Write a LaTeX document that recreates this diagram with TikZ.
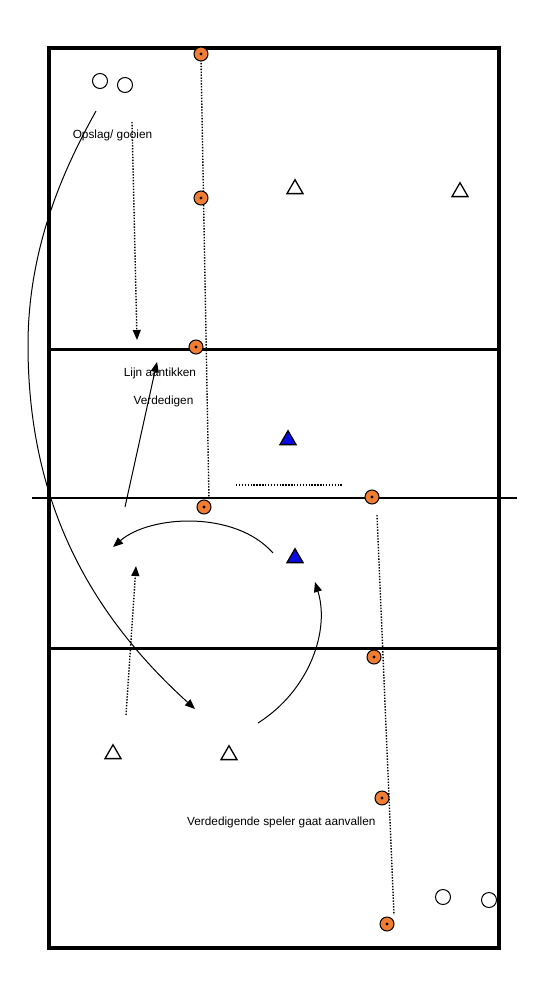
\documentclass[tikz,border=0pt]{standalone}
\usepackage{fontspec}
\setmainfont{Liberation Sans}
\usetikzlibrary{arrows.meta,shapes.geometric}
\definecolor{cone}{RGB}{240,125,50}
\definecolor{bluep}{RGB}{10,10,230}
\tikzset{
  court/.style={line width=4pt},
  cline/.style={line width=3pt},
  netline/.style={line width=2pt},
  dotline/.style={line width=1.4pt,dash pattern=on 1.4pt off 1.5pt},
  mv/.style={line width=1pt,-{Triangle[length=10pt,width=8pt]}},
  marker/.style={circle,draw=black,fill=cone,line width=1pt,minimum size=14pt,inner sep=0pt,
     path picture={\fill[black] (path picture bounding box.center) circle (1.6pt);}},
  tri/.style={regular polygon,regular polygon sides=3,draw=black,fill=white,line width=1.3pt,minimum size=18.5pt,inner sep=0pt},
  btri/.style={tri,fill=bluep},
  ball/.style={circle,draw=black,fill=white,line width=1pt,minimum size=15pt,inner sep=0pt},
  lbl/.style={font=\fontsize{11.8}{13}\selectfont,inner sep=0pt}
}
\begin{document}
\begin{tikzpicture}[x=1pt,y=-1pt]
\useasboundingbox (0,0) rectangle (550,1000);
\fill[white] (0,0) rectangle (550,1000);
% court
\draw[court] (49,48) rectangle (499,948);
\draw[cline] (49,349) -- (499,349);
\draw[cline] (49,648) -- (499,648);
\draw[netline] (32,498) -- (517,498);
% coordinates
\coordinate (d1s) at (201,60);
\coordinate (d1e) at (209,500);
\coordinate (d2s) at (377,515);
\coordinate (d2e) at (394,915);
\coordinate (a1s) at (132,122);
\coordinate (a1e) at (137,340);
\coordinate (hs) at (236,485);
\coordinate (he) at (343,485);
\coordinate (a2s) at (126,715);
\coordinate (a2e) at (136,566);
\coordinate (a3s) at (125,507);
\coordinate (a3e) at (157,362);
\coordinate (k1s) at (273,553);
\coordinate (k1e) at (113,547);
\coordinate (k2s) at (258,723);
\coordinate (k2e) at (315,582);
\coordinate (bs) at (96,111);
\coordinate (bm) at (28,345);
\coordinate (be) at (195,709);
% dotted lines
\draw[dotline] (d1s) -- (d1e);
\draw[dotline] (d2s) -- (d2e);
\draw[dotline] (hs) -- (he);
\draw[dotline,-{Triangle[length=10pt,width=8pt]}] (a1s) -- (a1e);
\draw[dotline,-{Triangle[length=10pt,width=8pt]}] (a2s) -- (a2e);
% solid arrows
\draw[mv] (a3s) -- (a3e);
\draw[mv] (k1s) .. controls (235,510) and (150,515) .. (k1e);
\draw[mv] (k2s) .. controls (310,690) and (330,630) .. (k2e);
\draw[mv] (bs) .. controls (70,158) and (28,240) .. (bm) .. controls (28,500) and (88,612) .. (be);
% markers
\node[marker] (p1) at (201,54) {};
\node[marker] (p2) at (201,198) {};
\node[marker] (p3) at (196,347) {};
\node[marker] (p4) at (204,507) {};
\node[marker] (p5) at (372,497) {};
\node[marker] (p6) at (374,657) {};
\node[marker] (p7) at (382,798) {};
\node[marker] (p8) at (387,924) {};
% triangles
\node[tri] (t1) at (295,189) {};
\node[tri] (t2) at (460,192) {};
\node[tri] (t3) at (113,754) {};
\node[tri] (t4) at (229,755) {};
\node[btri] (b1) at (288,440) {};
\node[btri] (b2) at (295,558) {};
% balls
\node[ball] (c1) at (100,81) {};
\node[ball] (c2) at (125,85) {};
\node[ball] (c3) at (443,897) {};
\node[ball] (c4) at (489,900) {};
% texts
\node[lbl] (l1) at (112.5,135) {Opslag/ gooien};
\node[lbl] (l2) at (160,373) {Lijn aantikken};
\node[lbl] (l3) at (163.5,401) {Verdedigen};
\node[lbl,anchor=west] (l4) at (187,822) {Verdedigende speler gaat aanvallen};
\end{tikzpicture}
\end{document}
